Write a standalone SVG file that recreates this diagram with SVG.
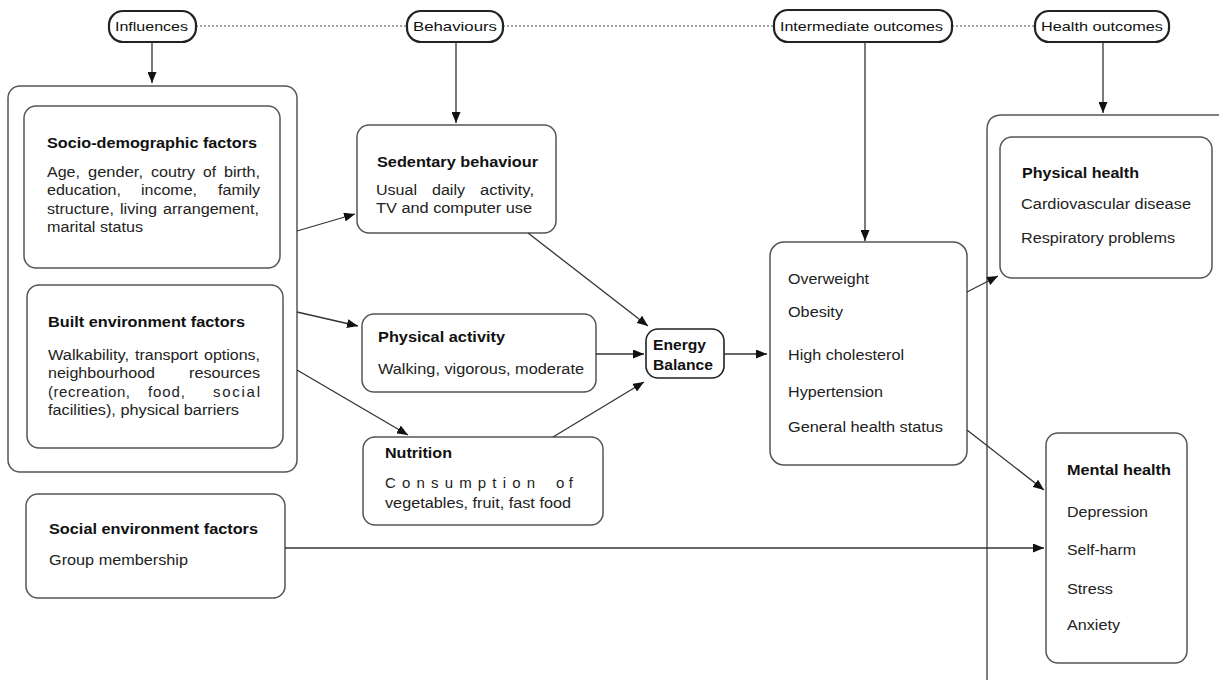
<svg xmlns="http://www.w3.org/2000/svg" width="1219" height="680" viewBox="0 0 1219 680">
  <style>
    .box { fill: #fff; stroke: #555; stroke-width: 1.5; }
    .pill { fill: #fff; stroke: #222; stroke-width: 2.2; }
    .frame { fill: none; stroke: #555; stroke-width: 1.5; }
    .dots { stroke: #888; stroke-width: 1.5; stroke-dasharray: 2 2; fill: none; }
    .conn { stroke: #333; stroke-width: 1.3; fill: none; marker-end: url(#arrow); }
    text { font-family: "Liberation Sans", Arial, sans-serif; font-size: 14px; fill: #222; }
    .t { font-weight: bold; fill: #111; }
    .p { font-size: 13px; fill: #111; }
    .w { font-size: 15px; }
  </style>
  <defs>
    <marker id="arrow" markerUnits="userSpaceOnUse" markerWidth="11" markerHeight="9" viewBox="0 0 11 9" refX="11" refY="4.5" orient="auto">
      <path d="M0,0 L11,4.5 L0,9 z" fill="#111"/>
    </marker>
  </defs>

  <!-- dotted band linking the four stage labels -->
  <g id="stage-links">
    <line class="dots" x1="196" y1="26" x2="407" y2="26"/>
    <line class="dots" x1="503" y1="26" x2="774" y2="26"/>
    <line class="dots" x1="952" y1="26" x2="1035" y2="26"/>
  </g>

  <!-- stage labels -->
  <g id="stage-influences">
    <rect class="pill" x="109" y="11" width="87" height="31" rx="14"/>
    <text class="p" x="115" y="31" textLength="73" lengthAdjust="spacingAndGlyphs">Influences</text>
  </g>
  <g id="stage-behaviours">
    <rect class="pill" x="407" y="11" width="96" height="31" rx="14"/>
    <text class="p" x="413" y="31" textLength="84" lengthAdjust="spacingAndGlyphs">Behaviours</text>
  </g>
  <g id="stage-intermediate">
    <rect class="pill" x="774" y="10" width="178" height="32" rx="14"/>
    <text class="p" x="780" y="31" textLength="163" lengthAdjust="spacingAndGlyphs">Intermediate outcomes</text>
  </g>
  <g id="stage-health">
    <rect class="pill" x="1035" y="11" width="134" height="31" rx="14"/>
    <text class="p" x="1041" y="31" textLength="122" lengthAdjust="spacingAndGlyphs">Health outcomes</text>
  </g>

  <!-- influences frame -->
  <g id="influences-frame">
    <rect class="frame" x="8" y="86" width="289" height="386" rx="12"/>
  </g>

  <!-- justified lines are set word by word -->
  <g id="socio-demographic">
    <rect class="box" x="24" y="106" width="256" height="162" rx="12"/>
    <text class="t" x="47" y="148" textLength="210" lengthAdjust="spacingAndGlyphs">Socio-demographic factors</text>
    <text x="47" y="177" textLength="33" lengthAdjust="spacingAndGlyphs">Age,</text>
    <text x="88" y="177" textLength="55" lengthAdjust="spacingAndGlyphs">gender,</text>
    <text x="151" y="177" textLength="44" lengthAdjust="spacingAndGlyphs">coutry</text>
    <text x="203" y="177" textLength="13" lengthAdjust="spacingAndGlyphs">of</text>
    <text x="224" y="177" textLength="36" lengthAdjust="spacingAndGlyphs">birth,</text>
    <text x="47" y="195" textLength="74" lengthAdjust="spacingAndGlyphs">education,</text>
    <text x="141" y="195" textLength="56" lengthAdjust="spacingAndGlyphs">income,</text>
    <text x="218" y="195" textLength="42" lengthAdjust="spacingAndGlyphs">family</text>
    <text x="47" y="214" textLength="67" lengthAdjust="spacingAndGlyphs">structure,</text>
    <text x="120" y="214" textLength="37" lengthAdjust="spacingAndGlyphs">living</text>
    <text x="163" y="214" textLength="96" lengthAdjust="spacingAndGlyphs">arrangement,</text>
    <text x="47" y="232" textLength="96" lengthAdjust="spacingAndGlyphs">marital status</text>
  </g>

  <g id="built-environment">
    <rect class="box" x="27" y="285" width="256" height="163" rx="12"/>
    <text class="t" x="48" y="327" textLength="197" lengthAdjust="spacingAndGlyphs">Built environment factors</text>
    <text x="48" y="360" textLength="81" lengthAdjust="spacingAndGlyphs">Walkability,</text>
    <text x="135" y="360" textLength="63" lengthAdjust="spacingAndGlyphs">transport</text>
    <text x="204" y="360" textLength="56" lengthAdjust="spacingAndGlyphs">options,</text>
    <text x="48" y="378" textLength="107" lengthAdjust="spacingAndGlyphs">neighbourhood</text>
    <text x="189" y="378" textLength="71" lengthAdjust="spacingAndGlyphs">resources</text>
    <text class="w" x="48" y="397" textLength="82" lengthAdjust="spacing">(recreation,</text>
    <text class="w" x="148" y="397" textLength="37" lengthAdjust="spacing">food,</text>
    <text class="w" x="213" y="397" textLength="47" lengthAdjust="spacing">social</text>
    <text x="48" y="415" textLength="191" lengthAdjust="spacingAndGlyphs">facilities), physical barriers</text>
  </g>

  <g id="social-environment">
    <rect class="box" x="26" y="494" width="259" height="104" rx="12"/>
    <text class="t" x="49" y="534" textLength="209" lengthAdjust="spacingAndGlyphs">Social environment factors</text>
    <text x="49" y="565" textLength="139" lengthAdjust="spacingAndGlyphs">Group membership</text>
  </g>

  <g id="sedentary">
    <rect class="box" x="357" y="125" width="199" height="108" rx="12"/>
    <text class="t" x="377" y="167" textLength="161" lengthAdjust="spacingAndGlyphs">Sedentary behaviour</text>
    <text x="376" y="195" textLength="41" lengthAdjust="spacingAndGlyphs">Usual</text>
    <text x="432" y="195" textLength="33" lengthAdjust="spacingAndGlyphs">daily</text>
    <text x="480" y="195" textLength="54" lengthAdjust="spacingAndGlyphs">activity,</text>
    <text x="376" y="213" textLength="156" lengthAdjust="spacingAndGlyphs">TV and computer use</text>
  </g>

  <g id="physical-activity">
    <rect class="box" x="362" y="314" width="234" height="78" rx="12"/>
    <text class="t" x="378" y="342" textLength="127" lengthAdjust="spacingAndGlyphs">Physical activity</text>
    <text x="378" y="374" textLength="206" lengthAdjust="spacingAndGlyphs">Walking, vigorous, moderate</text>
  </g>

  <g id="nutrition">
    <rect class="box" x="363" y="437" width="240" height="88" rx="12"/>
    <text class="t" x="385" y="458" textLength="67" lengthAdjust="spacingAndGlyphs">Nutrition</text>
    <text class="w" x="385" y="488" textLength="150" lengthAdjust="spacing">Consumption</text>
    <text class="w" x="556" y="488" textLength="17" lengthAdjust="spacing">of</text>
    <text x="385" y="508" textLength="186" lengthAdjust="spacingAndGlyphs">vegetables, fruit, fast food</text>
  </g>

  <g id="energy-balance">
    <rect class="pill" x="646" y="329" width="78" height="49" rx="12" style="stroke-width:1.6"/>
    <text class="t" x="653" y="350" textLength="53" lengthAdjust="spacingAndGlyphs">Energy</text>
    <text class="t" x="653" y="370" textLength="60" lengthAdjust="spacingAndGlyphs">Balance</text>
  </g>

  <g id="intermediate">
    <rect class="box" x="770" y="242" width="197" height="223" rx="14"/>
    <text x="788" y="284" textLength="81" lengthAdjust="spacingAndGlyphs">Overweight</text>
    <text x="788" y="317" textLength="55" lengthAdjust="spacingAndGlyphs">Obesity</text>
    <text x="788" y="360" textLength="116" lengthAdjust="spacingAndGlyphs">High cholesterol</text>
    <text x="788" y="397" textLength="95" lengthAdjust="spacingAndGlyphs">Hypertension</text>
    <text x="788" y="432" textLength="155" lengthAdjust="spacingAndGlyphs">General health status</text>
  </g>

  <!-- health outcomes frame, running off the right and bottom edges -->
  <g id="health-frame">
    <path class="frame" d="M987,682 L987,130 Q987,115 1002,115 L1221,115"/>
  </g>

  <g id="physical-health">
    <rect class="box" x="1000" y="137" width="212" height="141" rx="12"/>
    <text class="t" x="1022" y="178" textLength="117" lengthAdjust="spacingAndGlyphs">Physical health</text>
    <text x="1021" y="209" textLength="170" lengthAdjust="spacingAndGlyphs">Cardiovascular disease</text>
    <text x="1021" y="243" textLength="154" lengthAdjust="spacingAndGlyphs">Respiratory problems</text>
  </g>

  <g id="mental-health">
    <rect class="box" x="1046" y="433" width="141" height="230" rx="12"/>
    <text class="t" x="1067" y="475" textLength="104" lengthAdjust="spacingAndGlyphs">Mental health</text>
    <text x="1067" y="517" textLength="81" lengthAdjust="spacingAndGlyphs">Depression</text>
    <text x="1067" y="555" textLength="69" lengthAdjust="spacingAndGlyphs">Self-harm</text>
    <text x="1067" y="594" textLength="46" lengthAdjust="spacingAndGlyphs">Stress</text>
    <text x="1067" y="630" textLength="53" lengthAdjust="spacingAndGlyphs">Anxiety</text>
  </g>

  <!-- connectors -->
  <g id="connectors">
    <line class="conn" x1="152" y1="42" x2="152" y2="83"/>
    <line class="conn" x1="456" y1="42" x2="456" y2="123"/>
    <line class="conn" x1="865" y1="42" x2="865" y2="241"/>
    <line class="conn" x1="1103" y1="42" x2="1103" y2="113"/>
    <line class="conn" x1="297" y1="231" x2="355" y2="214"/>
    <line class="conn" x1="297" y1="312" x2="358" y2="326"/>
    <line class="conn" x1="297" y1="370" x2="408" y2="435"/>
    <line class="conn" x1="528" y1="233" x2="648" y2="326"/>
    <line class="conn" x1="596" y1="354" x2="644" y2="354"/>
    <line class="conn" x1="553" y1="437" x2="644" y2="382"/>
    <line class="conn" x1="724" y1="354" x2="767" y2="354"/>
    <line class="conn" x1="967" y1="292" x2="998" y2="276"/>
    <line class="conn" x1="967" y1="430" x2="1044" y2="490"/>
    <line class="conn" x1="285" y1="548" x2="1044" y2="548"/>
  </g>
</svg>
